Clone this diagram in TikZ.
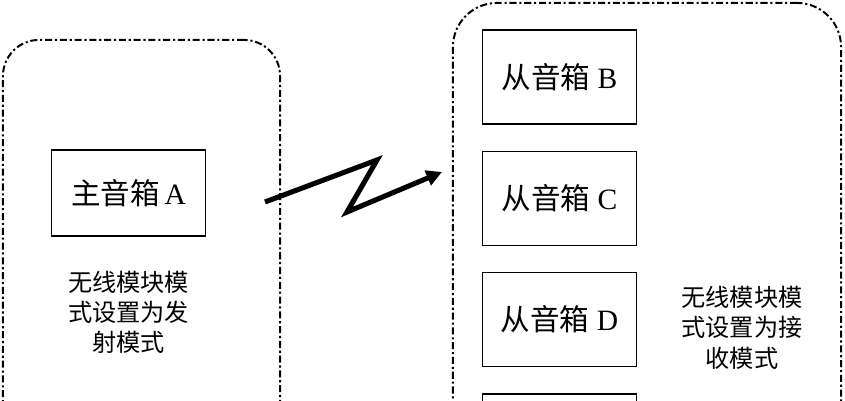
\documentclass[tikz,border=0pt]{standalone}
\usepackage{fontspec}
\setmainfont{Liberation Serif}
\newfontfamily\cjk{Noto Sans CJK SC}
\usetikzlibrary{positioning,arrows.meta}

\tikzset{%
  % Specifications for style of nodes:
         group/.style = {rectangle, draw = black, line width=1.4pt, dash pattern=on 5pt off 2pt on 1.5pt off 2pt},
       speaker/.style = {rectangle, draw = black, line width=0.9pt, minimum width=3.85cm, minimum height=2.35cm, font=\fontsize{21}{24}\selectfont},
          mode/.style = {align=center, inner sep=0pt, font=\cjk\fontsize{17.2}{21.5}\selectfont},
          wave/.style = {line width=3.6pt, -{Triangle[length=11pt,width=11pt]}},
}

\begin{document}
\begin{tikzpicture}[x=0.025cm, y=-0.025cm]
    \useasboundingbox (0,0) rectangle (845,400);
    \clip (0,0) rectangle (845,400);

    % Draw groups
    \node (send)  [group, rounded corners=0.9cm, minimum width=6.925cm, minimum height=10.5cm]  at (141.5,250) {};
    \node (recv)  [group, rounded corners=1.1cm, minimum width=9.7cm, minimum height=11.425cm] at (647,231.5) {};

    % Draw nodes
    \node (a)     [speaker, minimum height=2.15cm] at (128.5,193) {{\cjk 主音箱}\,A};
    \node (b)     [speaker] at (559.5,77)              {{\cjk 从音箱} B};
    \node (c)     [speaker, below=0.65cm of b]         {{\cjk 从音箱} C};
    \node (d)     [speaker, below=0.65cm of c]         {{\cjk 从音箱} D};
    \node (e)     [speaker, below=0.65cm of d]         {};

    \node (sendmode) [mode, below=0.85cm of a]        {无线模块模\\式设置为发\\射模式};
    \node (recvmode) [mode, right=1.1cm of d, yshift=-0.2cm] {无线模块模\\式设置为接\\收模式};

    % Draw arrow
    \coordinate (zs) at (265,202);
    \coordinate (ze) at (442,172);
    \draw[wave]   (zs) -- ++(112,-42) -- ++(-30,52) -- (ze);

\end{tikzpicture}
\end{document}
